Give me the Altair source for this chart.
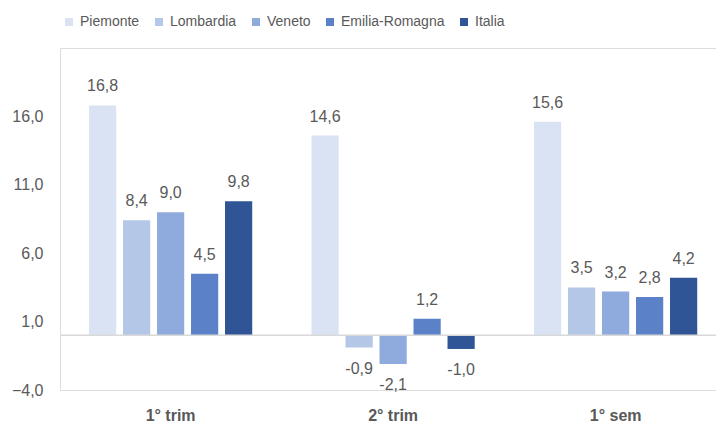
import altair as alt
import pandas as pd

# Periods on the x axis and the areas compared in each one
periods = ["1° trim", "2° trim", "1° sem"]
areas = ["Piemonte", "Lombardia", "Veneto", "Emilia-Romagna", "Italia"]

# Percentage change for each area, one list per area in period order
piemonte = [16.8, 14.6, 15.6]
lombardia = [8.4, -0.9, 3.5]
veneto = [9.0, -2.1, 3.2]
emilia_romagna = [4.5, 1.2, 2.8]
italia = [9.8, -1.0, 4.2]

area_colors = ["#DAE3F3", "#B4C7E7", "#8FAADC", "#5B82C9", "#2F5597"]
y_ticks = [-4, 1, 6, 11, 16]

series = [piemonte, lombardia, veneto, emilia_romagna, italia]
rows = []
for area, vals in zip(areas, series):
    for period, v in zip(periods, vals):
        rows.append({
            "period": period,
            "area": area,
            "value": v,
            "label": f"{v:.1f}".replace(".", ","),
        })
df = pd.DataFrame(rows)

FONT = "Liberation Sans, Arial, sans-serif"
GREY = "#595959"

x_enc = alt.X(
    "period:N",
    sort=periods,
    title=None,
    scale=alt.Scale(paddingInner=0.2665, paddingOuter=0.1074, align=0.607),
    axis=alt.Axis(
        domain=False, ticks=False, labelAngle=0, labelPadding=17,
        labelFont=FONT, labelFontSize=16, labelFontWeight="bold", labelColor=GREY,
        labelBaseline="top",
    ),
)
xoff_enc = alt.XOffset(
    "area:N", sort=areas,
    scale=alt.Scale(paddingInner=0.2, paddingOuter=0),
)
y_scale = alt.Scale(domain=[-4, 21], nice=False, zero=False)

bars = alt.Chart(df).mark_bar().encode(
    x=x_enc,
    xOffset=xoff_enc,
    y=alt.Y(
        "value:Q",
        scale=y_scale,
        title=None,
        axis=alt.Axis(
            values=y_ticks, grid=False, domain=False, ticks=False,
            labelPadding=17, labelFont=FONT, labelFontSize=16, labelColor=GREY,
            labelExpr="replace(format(datum.value, '.1f'), '.', ',')",
        ),
    ),
    color=alt.Color(
        "area:N",
        sort=areas,
        scale=alt.Scale(domain=areas, range=area_colors),
        legend=alt.Legend(
            title=None, orient="none", direction="horizontal",
            legendX=2, legendY=-33,
            symbolType="square", symbolSize=64, symbolStrokeWidth=0,
            labelFont=FONT, labelFontSize=14, labelColor=GREY,
            labelOffset=4, columnPadding=12, padding=0,
        ),
    ),
)

zero_line = alt.Chart(pd.DataFrame({"v": [0]})).mark_rule(
    color="#D9D9D9", strokeWidth=1.5
).encode(y=alt.Y("v:Q", scale=y_scale))

text_common = dict(font=FONT, fontSize=16, color=GREY, baseline="middle")

labels_pos = alt.Chart(df).transform_filter("datum.value >= 0").mark_text(
    dy=-19, **text_common
).encode(x=x_enc, xOffset=xoff_enc, y=alt.Y("value:Q", scale=y_scale), text="label:N")

labels_neg = alt.Chart(df).transform_filter("datum.value < 0").mark_text(
    dy=21, **text_common
).encode(x=x_enc, xOffset=xoff_enc, y=alt.Y("value:Q", scale=y_scale), text="label:N")

chart = (
    alt.layer(bars, zero_line, labels_pos, labels_neg)
    .properties(
        width=656,
        height=342,
        autosize=alt.AutoSizeParams(type="none"),
        padding={"left": 60, "top": 48, "right": 0, "bottom": 33},
    )
    .configure_view(stroke=None)
    .configure(background="white")
)

chart.save("out.html", embed_options={"renderer": "svg", "actions": False})
